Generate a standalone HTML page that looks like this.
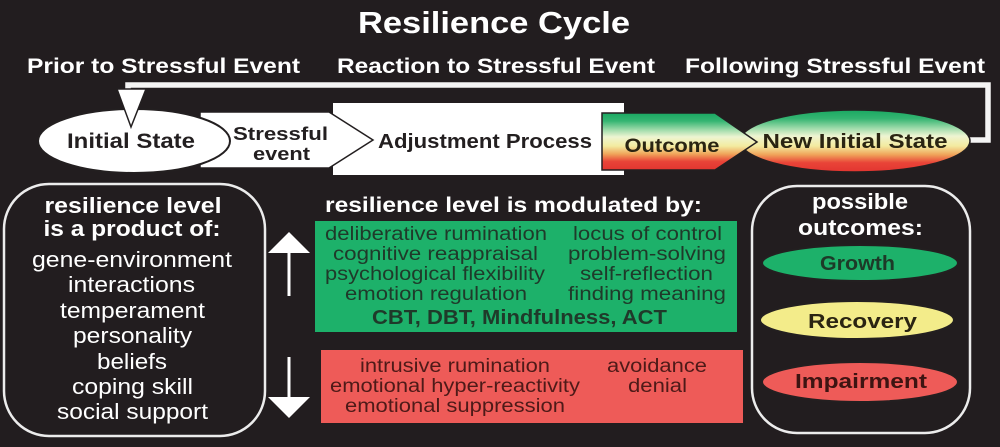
<!DOCTYPE html>
<html><head><meta charset="utf-8">
<style>
html,body{margin:0;padding:0;background:#221d1f;}
svg{display:block;}
text{font-family:"Liberation Sans",Arial,sans-serif;}
</style></head>
<body>
<svg width="1000" height="447" viewBox="0 0 1000 447" xmlns="http://www.w3.org/2000/svg">
<defs>
<linearGradient id="gr" x1="0" y1="0" x2="0" y2="1">
<stop offset="0" stop-color="#1aa862"/>
<stop offset="0.14" stop-color="#35b572"/>
<stop offset="0.3" stop-color="#a2dcac"/>
<stop offset="0.42" stop-color="#eef5d2"/>
<stop offset="0.58" stop-color="#f3eba0"/>
<stop offset="0.72" stop-color="#f0a45a"/>
<stop offset="0.85" stop-color="#e94438"/>
<stop offset="1" stop-color="#e23530"/>
</linearGradient>
</defs>
<rect width="1000" height="447" fill="#221d1f"/>

<!-- Title -->
<text x="494" y="33" font-size="31" font-weight="bold" fill="#fff" text-anchor="middle" textLength="272" lengthAdjust="spacingAndGlyphs">Resilience Cycle</text>
<text x="163.5" y="73" font-size="21" font-weight="bold" fill="#fff" text-anchor="middle" textLength="273" lengthAdjust="spacingAndGlyphs">Prior to Stressful Event</text>
<text x="496" y="73" font-size="21" font-weight="bold" fill="#fff" text-anchor="middle" textLength="318" lengthAdjust="spacingAndGlyphs">Reaction to Stressful Event</text>
<text x="835" y="73" font-size="21" font-weight="bold" fill="#fff" text-anchor="middle" textLength="300" lengthAdjust="spacingAndGlyphs">Following Stressful Event</text>

<!-- feedback line -->
<polyline points="968,140 988,140 988,85 128,85 128,92" fill="none" stroke="#f4f4f4" stroke-width="5.5"/>

<!-- Adjustment Process rect -->
<rect x="333" y="103" width="291" height="72" fill="#fff"/>
<!-- Stressful event arrow -->
<path d="M200,112 L329,112 L373,140 L329,168 L200,168 Z" fill="#fff" stroke="#231f20" stroke-width="1.5"/>
<!-- Initial State ellipse -->
<ellipse cx="134" cy="141" rx="96" ry="32" fill="#fff" stroke="#231f20" stroke-width="2"/>
<!-- arrow head -->
<polygon points="117,89 146,89 131,127" fill="#fff" stroke="#231f20" stroke-width="1.5"/>

<text x="131" y="148" font-size="21" font-weight="bold" fill="#231f20" text-anchor="middle" textLength="128" lengthAdjust="spacingAndGlyphs">Initial State</text>
<text x="280.5" y="140" font-size="18" font-weight="bold" fill="#231f20" text-anchor="middle" textLength="95" lengthAdjust="spacingAndGlyphs">Stressful</text>
<text x="281.5" y="160" font-size="18" font-weight="bold" fill="#231f20" text-anchor="middle" textLength="57" lengthAdjust="spacingAndGlyphs">event</text>
<text x="485" y="148" font-size="20" font-weight="bold" fill="#231f20" text-anchor="middle" textLength="214" lengthAdjust="spacingAndGlyphs">Adjustment Process</text>

<!-- New Initial State ellipse -->
<ellipse cx="855" cy="141" rx="115" ry="31" fill="url(#gr)" stroke="#231f20" stroke-width="1.5"/>
<!-- Outcome chevron -->
<path d="M602,113 L715,113 L757,142 L715,170 L602,170 Z" fill="url(#gr)" stroke="#231f20" stroke-width="1.5"/>
<text x="672" y="152" font-size="19" font-weight="bold" fill="#2a2412" text-anchor="middle" textLength="95" lengthAdjust="spacingAndGlyphs">Outcome</text>
<text x="855" y="148" font-size="20" font-weight="bold" fill="#2a2412" text-anchor="middle" textLength="185" lengthAdjust="spacingAndGlyphs">New Initial State</text>

<!-- Left rounded box -->
<rect x="4" y="184" width="261" height="252" rx="45" ry="45" fill="none" stroke="#ececec" stroke-width="2.5"/>
<g fill="#fff" text-anchor="middle">
<text x="133" y="213" font-size="22" font-weight="bold" textLength="177" lengthAdjust="spacingAndGlyphs">resilience level</text>
<text x="132" y="236" font-size="22" font-weight="bold" textLength="177" lengthAdjust="spacingAndGlyphs">is a product of:</text>
<text x="132" y="267" font-size="22" textLength="200" lengthAdjust="spacingAndGlyphs">gene-environment</text>
<text x="131.5" y="292" font-size="22" textLength="127" lengthAdjust="spacingAndGlyphs">interactions</text>
<text x="132.5" y="318" font-size="22" textLength="145" lengthAdjust="spacingAndGlyphs">temperament</text>
<text x="132.5" y="343" font-size="22" textLength="119" lengthAdjust="spacingAndGlyphs">personality</text>
<text x="132" y="369" font-size="22" textLength="70" lengthAdjust="spacingAndGlyphs">beliefs</text>
<text x="132.5" y="394" font-size="22" textLength="121" lengthAdjust="spacingAndGlyphs">coping skill</text>
<text x="132.5" y="419" font-size="22" textLength="151" lengthAdjust="spacingAndGlyphs">social support</text>
</g>

<!-- arrows -->
<rect x="287.5" y="252" width="3" height="44" fill="#fff"/>
<polygon points="268,253 310,253 289,232" fill="#fff"/>
<rect x="287.5" y="357" width="3" height="41" fill="#fff"/>
<polygon points="268,397 310,397 289,418" fill="#fff"/>

<!-- modulated -->
<text x="513.5" y="212" font-size="21" font-weight="bold" fill="#fff" text-anchor="middle" textLength="377" lengthAdjust="spacingAndGlyphs">resilience level is modulated by:</text>
<rect x="315" y="221" width="422" height="111" fill="#1db16a"/>
<g fill="#1f3a2a" text-anchor="middle" font-size="19">
<text x="436" y="240" textLength="222" lengthAdjust="spacingAndGlyphs">deliberative rumination</text>
<text x="435.5" y="260" textLength="205" lengthAdjust="spacingAndGlyphs">cognitive reappraisal</text>
<text x="435" y="280" textLength="220" lengthAdjust="spacingAndGlyphs">psychological flexibility</text>
<text x="436" y="300" textLength="182" lengthAdjust="spacingAndGlyphs">emotion regulation</text>
<text x="647.5" y="240" textLength="149" lengthAdjust="spacingAndGlyphs">locus of control</text>
<text x="647" y="260" textLength="158" lengthAdjust="spacingAndGlyphs">problem-solving</text>
<text x="646.5" y="280" textLength="133" lengthAdjust="spacingAndGlyphs">self-reflection</text>
<text x="647" y="300" textLength="158" lengthAdjust="spacingAndGlyphs">finding meaning</text>
<text x="519.5" y="324" font-weight="bold" font-size="20" textLength="295" lengthAdjust="spacingAndGlyphs">CBT, DBT, Mindfulness, ACT</text>
</g>

<rect x="321" y="350" width="422" height="73" fill="#ee5b58"/>
<g fill="#4e1a18" text-anchor="middle" font-size="19">
<text x="455" y="372" textLength="190" lengthAdjust="spacingAndGlyphs">intrusive rumination</text>
<text x="455" y="392" textLength="250" lengthAdjust="spacingAndGlyphs">emotional hyper-reactivity</text>
<text x="455" y="412" textLength="220" lengthAdjust="spacingAndGlyphs">emotional suppression</text>
<text x="657" y="372" textLength="100" lengthAdjust="spacingAndGlyphs">avoidance</text>
<text x="657.5" y="392" textLength="59" lengthAdjust="spacingAndGlyphs">denial</text>
</g>

<!-- Right box -->
<rect x="752" y="186" width="218" height="247" rx="45" ry="45" fill="none" stroke="#ececec" stroke-width="2.5"/>
<text x="860" y="209" font-size="22" font-weight="bold" fill="#fff" text-anchor="middle" textLength="96" lengthAdjust="spacingAndGlyphs">possible</text>
<text x="860.5" y="235" font-size="22" font-weight="bold" fill="#fff" text-anchor="middle" textLength="125" lengthAdjust="spacingAndGlyphs">outcomes:</text>

<ellipse cx="860" cy="263" rx="98" ry="18" fill="#1db16a" stroke="#231f20" stroke-width="2"/>
<text x="857.5" y="270" font-size="20" font-weight="bold" fill="#1d3a28" text-anchor="middle" textLength="75" lengthAdjust="spacingAndGlyphs">Growth</text>
<ellipse cx="857" cy="320" rx="97" ry="19" fill="#f3ec8a" stroke="#231f20" stroke-width="2"/>
<text x="862.5" y="328" font-size="20" font-weight="bold" fill="#2a2412" text-anchor="middle" textLength="109" lengthAdjust="spacingAndGlyphs">Recovery</text>
<ellipse cx="860" cy="382" rx="98" ry="20" fill="#ee5b58" stroke="#231f20" stroke-width="2"/>
<text x="861" y="388" font-size="20" font-weight="bold" fill="#3e1412" text-anchor="middle" textLength="132" lengthAdjust="spacingAndGlyphs">Impairment</text>
</svg>
</body></html>
